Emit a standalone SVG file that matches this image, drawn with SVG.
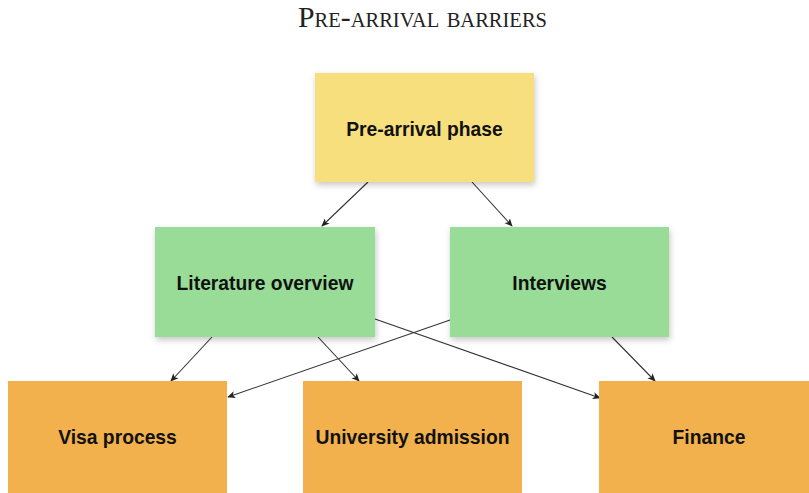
<svg xmlns="http://www.w3.org/2000/svg" width="809" height="493" viewBox="0 0 809 493">
<defs>
<filter id="sh" x="-10%" y="-10%" width="125%" height="130%">
<feDropShadow dx="1" dy="3" stdDeviation="3" flood-color="#000" flood-opacity="0.22"/>
</filter>
<marker id="ah" viewBox="0 0 10 10" refX="9" refY="5" markerWidth="8" markerHeight="8" markerUnits="userSpaceOnUse" orient="auto">
<path d="M0,0.5 L10,5 L0,9.5 L2.5,5 Z" fill="#222"/>
</marker>
<style>
.title{font-family:"Liberation Serif","Times New Roman",serif;font-size:29px;font-variant:small-caps;fill:#222}
.lbl{font-family:"Liberation Sans",Arial,sans-serif;font-size:19.3px;font-weight:bold;fill:#111;text-anchor:middle;dominant-baseline:central}
.y{fill:#F7DF7E}
.g{fill:#98DC97}
.o{fill:#F2B14C}
.c{stroke:#333;stroke-width:1.1;fill:none;marker-end:url(#ah)}
</style>
</defs>
<rect width="809" height="493" fill="#fff"/>
<text class="title" x="298" y="27" textLength="249" lengthAdjust="spacingAndGlyphs">Pre-arrival barriers</text>
<g id="connectors">
<line class="c" x1="368" y1="182" x2="322" y2="226"/>
<line class="c" x1="472" y1="182" x2="512" y2="226"/>
<line class="c" x1="212" y1="337" x2="171" y2="381"/>
<line class="c" x1="318" y1="337" x2="359" y2="381"/>
<line class="c" x1="375" y1="319" x2="600" y2="398"/>
<line class="c" x1="450" y1="320" x2="228" y2="397"/>
<line class="c" x1="612" y1="337" x2="655" y2="381"/>
</g>
<g id="pre-arrival">
<rect class="y" x="315" y="73" width="219" height="109" filter="url(#sh)"/>
<text class="lbl" x="424.5" y="129">Pre-arrival phase</text>
</g>
<g id="literature">
<rect class="g" x="155" y="227" width="220" height="110" filter="url(#sh)"/>
<text class="lbl" x="265" y="283">Literature overview</text>
</g>
<g id="interviews">
<rect class="g" x="450" y="227" width="219" height="110" filter="url(#sh)"/>
<text class="lbl" x="559.5" y="283">Interviews</text>
</g>
<g id="visa">
<rect class="o" x="8" y="381" width="219" height="112"/>
<text class="lbl" x="117.5" y="437">Visa process</text>
</g>
<g id="university">
<rect class="o" x="303" y="381" width="219" height="112"/>
<text class="lbl" x="412.5" y="437">University admission</text>
</g>
<g id="finance">
<rect class="o" x="599" y="381" width="219" height="112"/>
<text class="lbl" x="709" y="437">Finance</text>
</g>
</svg>
